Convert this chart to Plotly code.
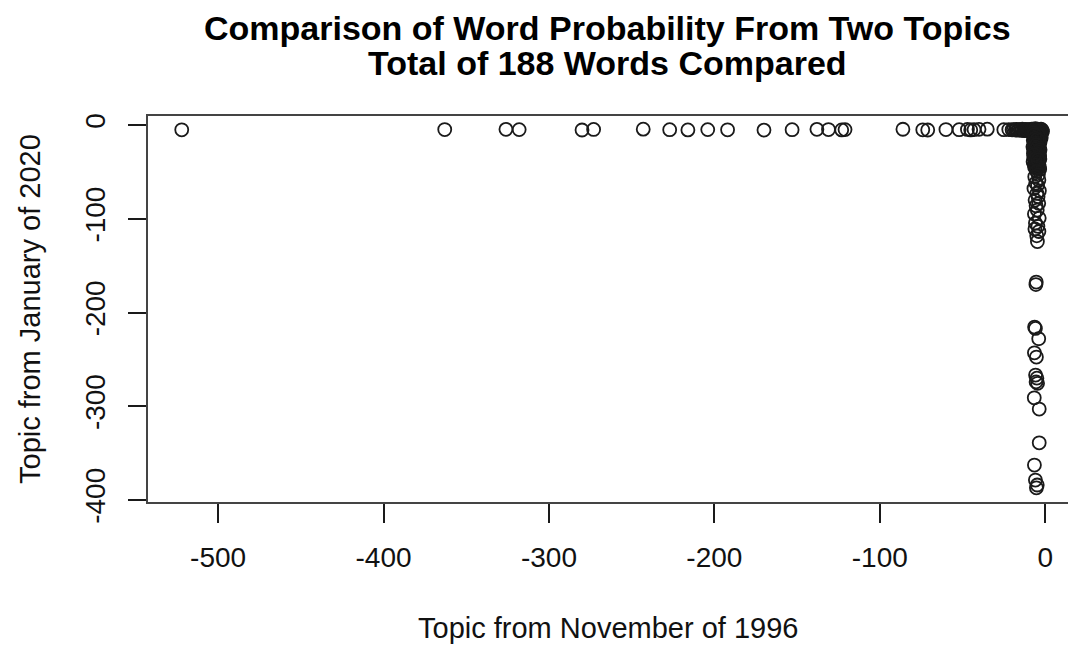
import plotly.graph_objects as go

# Words that sit along the top edge (low weight in the 2020 topic)
top_row_x = [-522, -363, -326, -318, -280, -273, -243, -227, -216, -204,
             -192, -170, -153, -138, -131, -123, -121, -86, -74, -71,
             -60, -52, -47, -45, -43, -40, -35, -25, -22, -20]
top_row_y = [-5.1, -4.8, -4.6, -4.9, -5.3, -4.7, -4.4, -5.0, -5.2, -4.9,
             -5.1, -5.4, -5.0, -4.6, -4.8, -5.2, -4.9, -4.5, -5.1, -5.3,
             -4.8, -5.0, -4.7, -5.2, -4.9, -4.6, -4.4, -5.0, -4.8, -5.1]

# Dense cluster in the top-right corner
corner_x = [-19.2, -18.1, -17.4, -16.6, -15.9, -15.1, -14.3, -13.8, -13.0, -12.4,
            -11.7, -11.1, -10.6, -9.8, -9.3, -8.7, -8.2, -7.9, -7.4, -6.8,
            -6.5, -6.1, -5.7, -5.3, -4.9, -4.6, -4.2, -3.9, -3.5, -3.2,
            -2.8, -2.5, -2.2, -1.9, -2.7, -3.8, -4.4, -5.9, -1.6, -2.4]
corner_y = [-4.9, -5.2, -4.6, -5.5, -4.8, -5.1, -5.7, -4.5, -5.3, -6.0,
            -4.7, -5.4, -5.0, -6.2, -4.8, -5.6, -4.4, -6.5, -5.1, -7.2,
            -4.9, -5.8, -8.1, -4.6, -6.9, -9.4, -5.3, -7.7, -4.8, -10.2,
            -6.1, -4.5, -8.6, -5.2, -11.8, -12.9, -9.9, -3.8, -7.0, -13.5]

# Upper, tightly packed part of the vertical column
column_x = [-5.1, -6.4, -3.9, -5.8, -4.5, -7.0, -3.3, -5.5, -6.1, -4.2,
            -4.8, -6.8, -3.6, -5.3, -7.2, -4.0, -5.9, -3.1, -6.5, -4.6,
            -5.0, -3.7, -6.2, -4.4, -7.4, -5.6, -3.4, -6.0, -4.9, -5.2,
            -6.7, -3.8, -5.4, -4.1, -7.1, -4.7, -6.3, -3.5, -5.7, -4.3,
            -6.9, -5.0, -3.2, -6.1, -4.5, -5.8, -7.3, -3.9, -5.3, -4.8,
            -6.6, -4.0, -5.5, -3.6, -6.4, -4.9, -5.1, -3.3, -7.0, -4.2,
            -6.0, -3.7, -5.6, -4.6, -6.8, -4.4, -5.2, -3.4, -6.2, -4.1,
            -5.9, -3.8, -6.5, -4.7, -5.4, -3.1, -6.7, -4.3]
column_y = [-6.2, -7.1, -7.8, -8.5, -9.3, -9.9, -10.6, -11.4, -12.0, -12.8,
            -13.5, -14.1, -14.9, -15.6, -16.2, -16.9, -17.7, -18.3, -19.0, -19.8,
            -20.5, -21.1, -21.9, -22.6, -23.3, -24.0, -24.8, -25.5, -26.1, -26.9,
            -27.6, -28.2, -29.0, -29.7, -30.4, -31.1, -31.9, -32.5, -33.3, -34.0,
            -34.7, -35.5, -36.2, -36.9, -37.6, -38.4, -39.1, -39.8, -40.6, -41.3,
            -42.0, -42.8, -43.5, -44.3, -45.0, -45.8, -46.5, -47.3, -8.1, -11.0,
            -13.9, -16.6, -19.4, -22.2, -25.1, -27.3, -30.8, -33.6, -36.5, -39.5,
            -42.4, -45.2, -10.1, -15.3, -20.9, -26.5, -31.7, -37.2]

# Lower, looser part of the column
column_low_x = [-5.2, -4.1, -6.3, -3.8, -5.7, -4.6, -6.8, -3.5, -5.0, -4.3, -6.1,
                -3.9, -5.5, -4.8, -6.5, -3.6, -5.9, -4.4, -6.2, -3.8, -5.1, -4.7]
column_low_y = [-49.5, -52.8, -55.1, -58.6, -61.9, -64.3, -67.8, -70.2, -72.9, -76.4, -80.1,
                -83.5, -86.2, -90.7, -94.8, -99.3, -104.6, -108.1, -110.9, -113.6, -118.2, -124.3]

# Isolated words far down the 2020 axis
tail_x = [-5.4, -5.6, -6.4, -5.9, -3.9, -6.5, -5.3, -5.8, -5.0, -5.5,
          -4.6, -6.6, -3.6, -3.6, -6.5, -5.9, -4.8, -5.3]
tail_y = [-167.5, -170.2, -215.5, -217.0, -228.0, -243.0, -247.5, -266.7, -270.0, -274.0,
          -275.5, -291.0, -303.0, -339.0, -362.7, -378.7, -384.0, -387.0]

x_1996 = top_row_x + corner_x + column_x + column_low_x + tail_x
y_2020 = top_row_y + corner_y + column_y + column_low_y + tail_y

x_ticks = [-500, -400, -300, -200, -100, 0]
y_ticks = [0, -100, -200, -300, -400]

FONT = "Liberation Sans, Arial, Helvetica, sans-serif"
INK = "#1a1a1a"

fig = go.Figure(
    go.Scatter(
        x=x_1996,
        y=y_2020,
        mode="markers",
        marker=dict(symbol="circle-open", size=13, color=INK, line=dict(width=1.8, color=INK)),
        hoverinfo="x+y",
    )
)

fig.update_layout(
    width=1068,
    height=649,
    margin=dict(l=147, r=0, t=115, b=146),
    paper_bgcolor="white",
    plot_bgcolor="white",
    showlegend=False,
    font=dict(family=FONT, color="black"),
    xaxis=dict(
        range=[-543, 13.8],
        tickvals=x_ticks,
        ticktext=[str(v) for v in x_ticks],
        ticks="outside",
        ticklen=19,
        tickwidth=1.6,
        tickcolor=INK,
        ticklabelstandoff=10,
        tickfont=dict(size=28, family=FONT, color="#111"),
        showgrid=False,
        zeroline=False,
        showline=False,
    ),
    yaxis=dict(
        range=[-403.2, 10.7],
        tickvals=y_ticks,
        ticktext=[str(v) for v in y_ticks],
        ticks="outside",
        ticklen=18,
        tickwidth=1.6,
        tickcolor=INK,
        tickangle=-90,
        ticklabelstandoff=12,
        tickfont=dict(size=28, family=FONT, color="#111"),
        showgrid=False,
        zeroline=False,
        showline=False,
    ),
    shapes=[
        # plot frame; its right side runs past the page edge
        dict(type="rect", xref="paper", yref="paper", x0=0, x1=1.02, y0=0, y1=1,
             line=dict(color="#444", width=2), fillcolor="rgba(0,0,0,0)", layer="above"),
    ],
    annotations=[
        dict(text="<b>Comparison of Word Probability From Two Topics</b>",
             xref="paper", yref="paper", x=0.5, y=1, yshift=87, xanchor="center", yanchor="middle",
             showarrow=False, font=dict(size=34, family=FONT, color="black")),
        dict(text="<b>Total of 188 Words Compared</b>",
             xref="paper", yref="paper", x=0.5, y=1, yshift=52, xanchor="center", yanchor="middle",
             showarrow=False, font=dict(size=34, family=FONT, color="black")),
        dict(text="Topic from November of 1996",
             xref="paper", yref="paper", x=0.5, y=0, yshift=-125, xanchor="center", yanchor="middle",
             showarrow=False, font=dict(size=29, family=FONT, color="#111")),
        dict(text="Topic from January of 2020",
             xref="paper", yref="paper", x=0, y=0.5, xshift=-117, xanchor="center", yanchor="middle",
             textangle=-90, showarrow=False, font=dict(size=29, family=FONT, color="#111")),
    ],
)

fig.write_html("out.html")
